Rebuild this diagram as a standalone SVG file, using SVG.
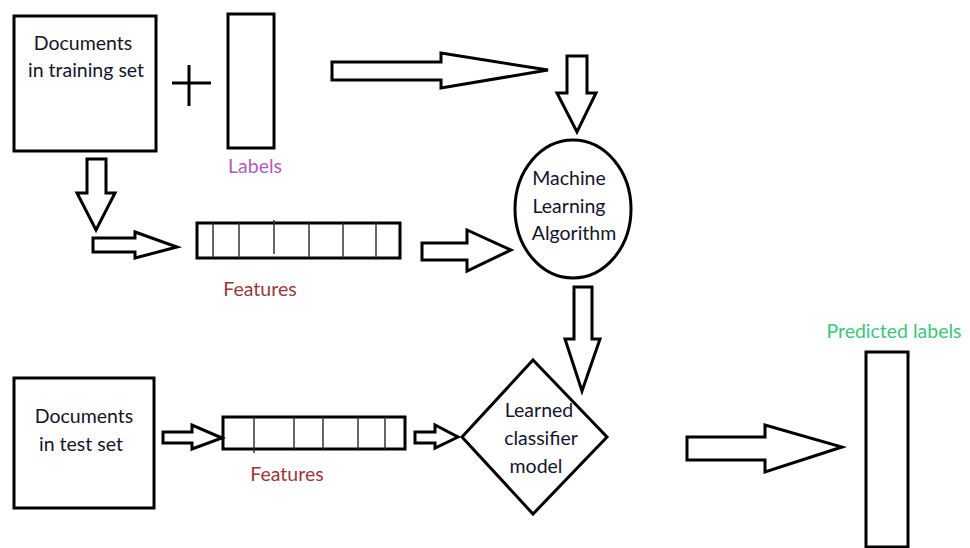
<svg xmlns="http://www.w3.org/2000/svg" width="970" height="548" viewBox="0 0 970 548">
<style>
.box{fill:#fff;stroke:#000;stroke-width:3}
.arr{fill:#fff;stroke:#000;stroke-width:3;stroke-linejoin:miter}
.div{stroke:#333;stroke-width:1.5}
.t{font-family:Lato,"Open Sans",sans-serif;font-size:19.5px;fill:#14142a;text-anchor:middle}
.feat{fill:#983838}
.lab{fill:#b35ac0}
.pred{fill:#3cc57a}
</style>
<rect width="970" height="548" fill="#fff"/>
<g id="train-docs">
<rect class="box" x="14" y="16" width="142" height="135"/>
<text class="t" x="83" y="50">Documents</text>
<text class="t" x="86" y="77">in training set</text>
</g>
<g id="plus">
<line x1="172" y1="83" x2="211" y2="83" stroke="#000" stroke-width="3"/>
<line x1="189" y1="65" x2="189" y2="106" stroke="#000" stroke-width="3"/>
</g>
<g id="labels">
<rect class="box" x="228" y="14" width="46" height="134"/>
<text class="t lab" x="255" y="173">Labels</text>
</g>
<g id="train-features">
<rect class="box" x="197" y="223" width="203" height="35"/>
<line class="div" x1="213" y1="223" x2="213" y2="258"/>
<line class="div" x1="239" y1="223" x2="239" y2="258"/>
<line class="div" x1="274" y1="220" x2="274" y2="254"/>
<line class="div" x1="309" y1="223" x2="309" y2="258"/>
<line class="div" x1="343" y1="223" x2="343" y2="258"/>
<line class="div" x1="376" y1="223" x2="376" y2="258"/>
<text class="t feat" x="260" y="296">Features</text>
</g>
<g id="ml-algorithm">
<ellipse class="box" cx="573" cy="209" rx="58" ry="69"/>
<text class="t" x="569" y="185">Machine</text>
<text class="t" x="569" y="213">Learning</text>
<text class="t" x="574" y="240">Algorithm</text>
</g>
<g id="classifier">
<polygon class="box" points="533,360 607,437 533,514 462,437"/>
<text class="t" x="539" y="417">Learned</text>
<text class="t" x="541" y="445">classifier</text>
<text class="t" x="536" y="473">model</text>
</g>
<g id="test-docs">
<rect class="box" x="14" y="378" width="140" height="130"/>
<text class="t" x="84" y="423">Documents</text>
<text class="t" x="81" y="451">in test set</text>
</g>
<g id="test-features">
<rect class="box" x="223" y="417" width="182" height="32"/>
<line class="div" x1="254" y1="417" x2="254" y2="453"/>
<line class="div" x1="294" y1="417" x2="294" y2="449"/>
<line class="div" x1="323" y1="417" x2="323" y2="449"/>
<line class="div" x1="358" y1="417" x2="358" y2="449"/>
<line class="div" x1="385" y1="417" x2="385" y2="449"/>
<text class="t feat" x="287" y="481">Features</text>
</g>
<g id="predicted">
<rect class="box" x="866" y="352" width="42" height="195"/>
<text class="t pred" x="894" y="338">Predicted labels</text>
</g>
<g id="connectors">
<polygon class="arr" points="87,159 106,159 106,193 115,193 96,230 77,193 87,193"/>
<polygon class="arr" points="93,238 135,238 135,232 177,247 135,258 135,252 93,252"/>
<polygon class="arr" points="332,62 441,62 441,53 548,70 441,88 441,80 332,80"/>
<polygon class="arr" points="567,56 587,56 587,93 596,93 577,132 557,93 567,93"/>
<polygon class="arr" points="422,243 467,243 467,230 511,250 467,271 467,260 422,260"/>
<polygon class="arr" points="574,287 592,287 592,339 600,339 582,391 565,339 574,339"/>
<polygon class="arr" points="163,432 192,432 192,425 222,438 192,449 192,443 163,443"/>
<polygon class="arr" points="415,432 435,432 435,425 458,437 435,448 435,443 415,443"/>
<polygon class="arr" points="687,437 765,437 765,425 842,447 765,472 765,460 687,460"/>
</g>
</svg>
